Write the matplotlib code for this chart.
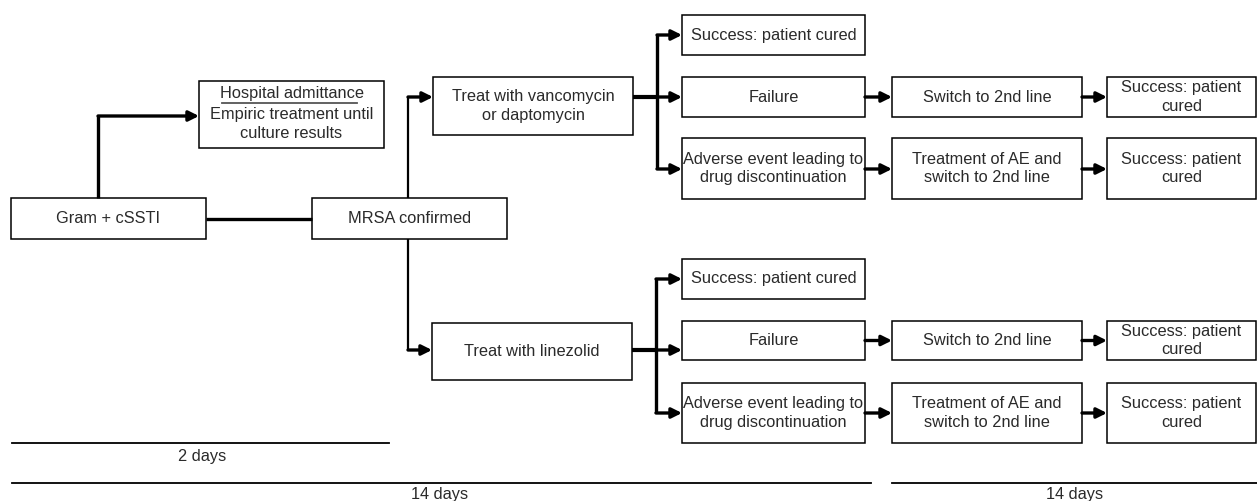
import matplotlib.pyplot as plt
from matplotlib.patches import Rectangle

plt.rcParams['font.family'] = ['Liberation Sans', 'DejaVu Sans']

# box labels
first_labels = ['Gram + cSSTI', 'MRSA confirmed']
hospital_title = 'Hospital admittance'
hospital_text = 'Empiric treatment until\nculture results'
treat_labels = ['Treat with vancomycin\nor daptomycin', 'Treat with linezolid']
outcome_labels = ['Success: patient cured', 'Failure',
                  'Adverse event leading to\ndrug discontinuation']
second_labels = ['Switch to 2nd line', 'Treatment of AE and\nswitch to 2nd line']
final_labels = ['Success: patient\ncured', 'Success: patient\ncured']
time_labels = ['2 days', '14 days', '14 days']

# layout (pixels, y downwards)
first_boxes = [(11, 198, 206, 239), (312, 198, 507, 239)]
hosp_box = (199, 81, 384, 148)
treat_boxes = [(433, 77, 633, 135), (432, 323, 632, 380)]
out_x = (682, 865)
sec_x = (892, 1082)
fin_x = (1107, 1256)
rows_y = [[(15, 55), (77, 117), (138, 199)],
          [(259, 299), (321, 360), (383, 443)]]
treat_out_y = [97, 350]
branch_x = [657, 656]
arrow_y = [[35, 97, 169], [279, 350, 413]]
time_lines = [(12, 389, 443), (12, 871, 483), (892, 1257, 483)]
time_text = [(202, 456), (440, 495), (1075, 495)]

fig = plt.figure(figsize=(12.57, 5.01), dpi=100)
ax = fig.add_axes([0, 0, 1, 1])
ax.set_xlim(0, 1257)
ax.set_ylim(501, 0)
ax.axis('off')

TXT = '#2a2a2a'
FS = 11.8
LS = 1.32


def box(b, label=None, fs=FS):
    x0, y0, x1, y1 = b
    ax.add_patch(Rectangle((x0, y0), x1 - x0, y1 - y0, fill=False,
                           ec='black', lw=1.1))
    if label:
        ax.text((x0 + x1) / 2, (y0 + y1) / 2, label, ha='center', va='center',
                fontsize=fs, color=TXT, linespacing=LS)


def line(xs, ys, lw=2.4):
    ax.plot(xs, ys, color='black', lw=lw, solid_capstyle='butt',
            solid_joinstyle='miter')


def arrow(x0, x1, y, lw=2.4):
    ax.annotate('', xy=(x1, y), xytext=(x0, y),
                arrowprops=dict(arrowstyle='-|>', color='black', lw=lw,
                                mutation_scale=15, shrinkA=0, shrinkB=0))


# first boxes
for b, lab in zip(first_boxes, first_labels):
    box(b, lab)

# hospital box
box(hosp_box)
hx = (hosp_box[0] + hosp_box[2]) / 2
ax.text(hx, 93, hospital_title, ha='center', va='center', fontsize=FS, color=TXT)
ax.plot([222, 357], [102.5, 102.5], color='#555555', lw=1.3)
ax.text(hx, 124, hospital_text, ha='center', va='center', fontsize=FS,
        color=TXT, linespacing=LS)

# gram -> hospital, gram -> mrsa
line([98, 98], [198, 116])
arrow(98, hosp_box[0], 116)
line([first_boxes[0][2], first_boxes[1][0]], [219, 219])

# mrsa -> treatments
mx = 408
line([mx, mx], [198, treat_out_y[0]], lw=1.6)
arrow(mx, treat_boxes[0][0], treat_out_y[0])
line([mx, mx], [239, treat_out_y[1]], lw=1.6)
arrow(mx, treat_boxes[1][0], treat_out_y[1])

for i in range(2):
    tb = treat_boxes[i]
    box(tb, treat_labels[i])
    bx = branch_x[i]
    ys = arrow_y[i]
    line([tb[2], bx], [treat_out_y[i], treat_out_y[i]], lw=3)
    line([bx, bx], [ys[0], ys[2]])
    for j in range(3):
        arrow(bx, out_x[0], ys[j])
        y0, y1 = rows_y[i][j]
        box((out_x[0], y0, out_x[1], y1), outcome_labels[j])
    for j in range(2):
        y0, y1 = rows_y[i][j + 1]
        ym = ys[j + 1] if i == 0 else (y0 + y1) / 2
        box((sec_x[0], y0, sec_x[1], y1), second_labels[j])
        box((fin_x[0], y0, fin_x[1], y1), final_labels[j])
        arrow(out_x[1], sec_x[0], ym)
        arrow(sec_x[1], fin_x[0], ym)

# time lines
for (x0, x1, y), (tx, ty), lab in zip(time_lines, time_text, time_labels):
    ax.plot([x0, x1], [y, y], color='black', lw=1.3)
    ax.text(tx, ty, lab, ha='center', va='center', fontsize=FS, color=TXT)

fig.savefig('out.png', dpi=100)
